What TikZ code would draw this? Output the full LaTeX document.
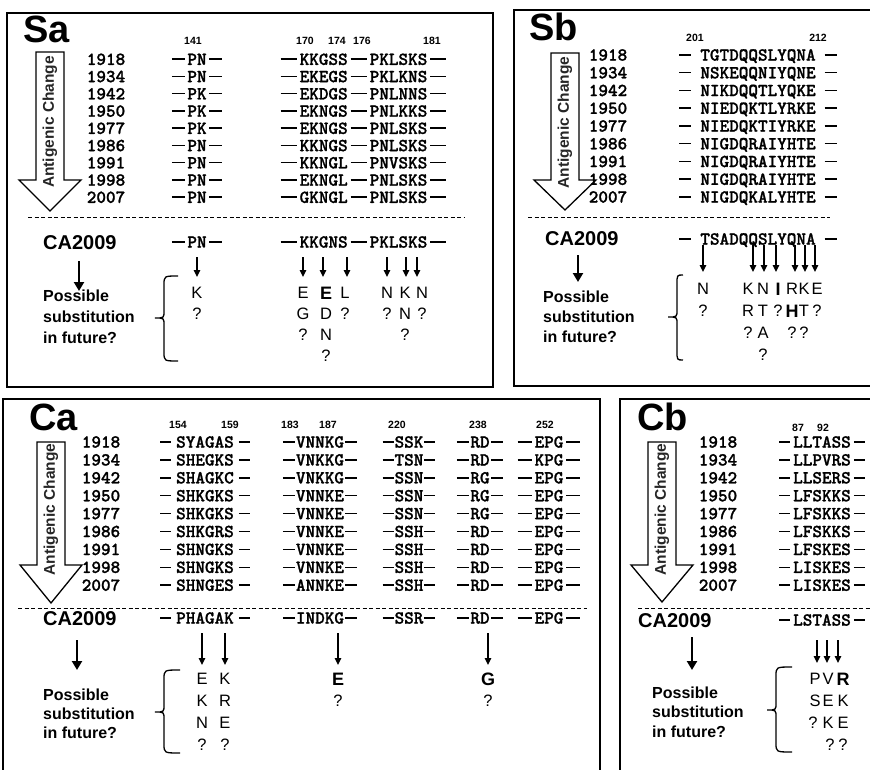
\documentclass[tikz,border=0pt]{standalone}
\usepackage{fontspec}
\setmainfont{Liberation Sans}
\newfontfamily\seqfont{lmmonolt10-bold.otf}[FakeBold=1.2]
\usetikzlibrary{arrows.meta}

% dash-flanked sequence fragments: #1 dash length, #2 gap, then residues
\newcommand\sqdash[1]{\rule[4.9pt]{#1pt}{1.5pt}}
\newcommand\sq[3]{\sqdash{#1}\hspace{#2pt}#3\hspace{#2pt}\sqdash{#1}}
\newcommand\sqq[4]{\sqdash{#1}\hspace{#2pt}#3\hspace{#2pt}\sqdash{#1}\hspace{#2pt}#4\hspace{#2pt}\sqdash{#1}}

\begin{document}
\begin{tikzpicture}[x=1pt,y=-1pt,
  frame/.style={line width=1.6pt},
  bigarrow/.style={draw, line width=1.3pt, fill=white, line join=miter},
  agtext/.style={font=\fontsize{15.5}{15.5}\selectfont\bfseries, text=black!85, inner sep=0pt},
  seqtext/.style={font=\fontsize{18.3}{18.3}\selectfont\seqfont, inner sep=0pt, anchor=base},
  resnum/.style={font=\fontsize{10.5}{10.5}\selectfont\bfseries, inner sep=0pt, anchor=base},
  paneltitle/.style={font=\fontsize{38}{38}\selectfont\bfseries, inner sep=0pt, anchor=base west},
  catext/.style={font=\fontsize{20}{20}\selectfont\bfseries, inner sep=0pt, anchor=base west},
  posstext/.style={font=\fontsize{16}{16}\selectfont\bfseries, inner sep=0pt, anchor=base west},
  subtext/.style={font=\fontsize{16.5}{16.5}\selectfont, inner sep=0pt, anchor=base},
  subbold/.style={font=\fontsize{18}{18}\selectfont\bfseries, inner sep=0pt, anchor=base},
  sepline/.style={line width=1pt, dash pattern=on 4pt off 2.5pt},
  thickarr/.style={line width=2.8pt, -{Triangle[length=9pt,width=10pt]}},
  thinarr/.style={line width=1.4pt, -{Triangle[length=7pt,width=6.5pt]}},
  bracepen/.style={line width=1.3pt},
]
\useasboundingbox (0,0) rectangle (870,770);
\clip (0,0) rectangle (870,770);
\fill[white] (0,0) rectangle (870,770);

% ---------- frames ----------
\draw[frame] (7,13) rectangle (493,387);
\draw[frame] (880,10) -- (514,10) -- (514,386) -- (880,386);
\draw[frame] (3,780) -- (3,399) -- (600,399) -- (600,780);
\draw[frame] (620,780) -- (620,399) -- (880,399);

% ---------- hollow "Antigenic Change" arrows ----------
\newcommand\agarrow[5]{% name, centre x, top, head base, tip
  \draw[bigarrow] ({#2-14},#3) -- ({#2+14},#3) -- ({#2+14},#4) -- ({#2+31},#4)
     -- (#2,#5) -- ({#2-31},#4) -- ({#2-14},#4) -- cycle;
  \node[agtext, rotate=90] (#1) at (#2,{(#3+#4)/2+6}) {Antigenic Change};
}
\agarrow{sa-ag}{50}{52}{180}{211}
\agarrow{sb-ag}{565}{53}{180}{210}
\agarrow{ca-ag}{51}{442}{565}{603}
\agarrow{cb-ag}{662}{442}{565}{602}

% ---------- left curly braces ----------
\newcommand\subbrace[5]{% x tip, x ends, y top, y tip, y bottom
  \draw[bracepen] (#2,#3) .. controls ({#1+9},#3) .. ({#1+9},{#3+9})
    -- ({#1+9},{#4-7}) .. controls ({#1+9},#4) .. (#1,#4)
    .. controls ({#1+9},#4) .. ({#1+9},{#4+7})
    -- ({#1+9},{#5-9}) .. controls ({#1+9},#5) .. (#2,#5);
}

% =================== Sa ===================
\node[paneltitle] (sa-title) at (23,43) {Sa};
\node[resnum] (sa-n141) at (193,44.5) {141};
\node[resnum] (sa-n170) at (305,44.5) {170};
\node[resnum] (sa-n174) at (337,44.5) {174};
\node[resnum] (sa-n176) at (362,44.5) {176};
\node[resnum] (sa-n181) at (432,44.5) {181};
\foreach \yr/\a/\b/\c [count=\i from 0] in {1918/PN/KKGSS/PKLSKS, 1934/PN/EKEGS/PKLKNS,
   1942/PK/EKDGS/PNLNNS, 1950/PK/EKNGS/PNLKKS, 1977/PK/EKNGS/PNLSKS, 1986/PN/KKNGS/PNLSKS,
   1991/PN/KKNGL/PNVSKS, 1998/PN/EKNGL/PNLSKS, 2007/PN/GKNGL/PNLSKS}{
  \pgfmathsetmacro\yy{59.3+17.25*\i+5.6}
  \node[seqtext] (sa-yr\i) at (106,\yy) {\yr};
  \node[seqtext] (sa-pa\i) at (197,\yy) {\sq{13}{2.5}{\a}};
  \node[seqtext] (sa-pb\i) at (363.5,\yy) {\sqq{16}{3}{\b}{\c}};
}
\draw[sepline] (28,218) -- (465,218);
\node[catext] (sa-ca) at (43,249) {CA2009};
\node[seqtext] (sa-cpa) at (197,247.6) {\sq{13}{2.5}{PN}};
\node[seqtext] (sa-cpb) at (363.5,247.6) {\sqq{16}{3}{KKGNS}{PKLSKS}};
\draw[thickarr] (79,261) coordinate (sa-d0) -- (79,291) coordinate (sa-d1);
\foreach \x [count=\k] in {197,303,323,347,387,406,417}
  \draw[thinarr] (\x,257) coordinate (sa-t\k) -- (\x,277) coordinate (sa-h\k);
\node[posstext] (sa-p1) at (43,301.5) {Possible};
\node[posstext] (sa-p2) at (43,322.5) {substitution};
\node[posstext] (sa-p3) at (43,343.5) {in future?};
\subbrace{155}{178}{276}{318}{361}
\foreach \x/\y/\l [count=\k] in {197/293/K, 197/314/?, 303/293/E, 303/314/G, 303/335/?,
   326/314/D, 326/335/N, 326/356/?, 345/293/L, 345/314/?, 387/293/N, 387/314/?,
   405/293/K, 405/314/N, 405/335/?, 422/293/N, 422/314/?}
  \node[subtext] (sa-l\k) at (\x,\y+5.9) {\l};
\node[subbold] (sa-lb1) at (326,299.4) {E};

% =================== Sb ===================
\node[paneltitle] (sb-title) at (529,41) {Sb};
\node[resnum] (sb-n201) at (695,42) {201};
\node[resnum] (sb-n212) at (818,42) {212};
\foreach \yr/\a [count=\i from 0] in {1918/TGTDQQSLYQNA, 1934/NSKEQQNIYQNE, 1942/NIKDQQTLYQKE,
   1950/NIEDQKTLYRKE, 1977/NIEDQKTIYRKE, 1986/NIGDQRAIYHTE, 1991/NIGDQRAIYHTE,
   1998/NIGDQRAIYHTE, 2007/NIGDQKALYHTE}{
  \pgfmathsetmacro\yy{55+17.75*\i+5.6}
  \node[seqtext] (sb-yr\i) at (608,\yy) {\yr};
  \node[seqtext] (sb-pa\i) at (758,\yy) {\sq{12}{9}{\a}};
}
\draw[sepline] (528,218) -- (830,218);
\node[catext] (sb-ca) at (545,246) {CA2009};
\node[seqtext] (sb-cpa) at (758,244.6) {\sq{12}{9}{TSADQQSLYQNA}};
\draw[thickarr] (578,255) coordinate (sb-d0) -- (578,282) coordinate (sb-d1);
\foreach \x [count=\k] in {703,753,764,776,795,805,815}
  \draw[thinarr] (\x,245) coordinate (sb-t\k) -- (\x,272) coordinate (sb-h\k);
\node[posstext] (sb-p1) at (543,302.5) {Possible};
\node[posstext] (sb-p2) at (543,322.5) {substitution};
\node[posstext] (sb-p3) at (543,342.5) {in future?};
\subbrace{668}{683}{275}{317}{360}
\foreach \x/\y/\l [count=\k] in {703/289/N, 703/311/?, 748/289/K, 748/311/R, 748/333/?,
   763/289/N, 763/311/T, 763/333/A, 763/355/?, 778/311/?, 792/289/R, 792/333/?,
   804/289/K, 804/311/T, 804/333/?, 817/289/E, 817/311/?}
  \node[subtext] (sb-l\k) at (\x,\y+5.9) {\l};
\node[subbold] (sb-lb1) at (778,295.4) {I};
\node[subbold] (sb-lb2) at (792,317.4) {H};

% =================== Ca ===================
\node[paneltitle] (ca-title) at (29,430) {Ca};
\node[resnum] (ca-n154) at (178,428.5) {154};
\node[resnum] (ca-n159) at (230,428.5) {159};
\node[resnum] (ca-n183) at (290,428.5) {183};
\node[resnum] (ca-n187) at (328,428.5) {187};
\node[resnum] (ca-n220) at (397,428.5) {220};
\node[resnum] (ca-n238) at (478,428.5) {238};
\node[resnum] (ca-n252) at (545,428.5) {252};
\foreach \yr/\a/\b/\c/\d/\e [count=\i from 0] in {1918/SYAGAS/VNNKG/SSK/RD/EPG,
   1934/SHEGKS/VNKKG/TSN/RD/KPG, 1942/SHAGKC/VNKKG/SSN/RG/EPG, 1950/SHKGKS/VNNKE/SSN/RG/EPG,
   1977/SHKGKS/VNNKE/SSN/RG/EPG, 1986/SHKGRS/VNNKE/SSH/RD/EPG, 1991/SHNGKS/VNNKE/SSH/RD/EPG,
   1998/SHNGKS/VNNKE/SSH/RD/EPG, 2007/SHNGES/ANNKE/SSH/RD/EPG}{
  \pgfmathsetmacro\yy{442+17.9*\i+5.6}
  \node[seqtext] (ca-yr\i) at (101,\yy) {\yr};
  \node[seqtext] (ca-pa\i) at (205,\yy) {\sq{11}{5}{\a}};
  \node[seqtext] (ca-pb\i) at (320,\yy) {\sq{12}{1}{\b}};
  \node[seqtext] (ca-pc\i) at (409,\yy) {\sq{11}{1}{\c}};
  \node[seqtext] (ca-pd\i) at (480,\yy) {\sq{12}{1.5}{\d}};
  \node[seqtext] (ca-pe\i) at (549,\yy) {\sq{14}{3}{\e}};
}
\draw[sepline] (18,608) -- (587,608);
\node[catext] (ca-ca) at (43,625) {CA2009};
\node[seqtext] (ca-cpa) at (205,623.6) {\sq{11}{5}{PHAGAK}};
\node[seqtext] (ca-cpb) at (320,623.6) {\sq{12}{1}{INDKG}};
\node[seqtext] (ca-cpc) at (409,623.6) {\sq{11}{1}{SSR}};
\node[seqtext] (ca-cpd) at (480,623.6) {\sq{12}{1.5}{RD}};
\node[seqtext] (ca-cpe) at (549,623.6) {\sq{14}{3}{EPG}};
\draw[thickarr] (77,640) coordinate (ca-d0) -- (77,670) coordinate (ca-d1);
\foreach \x [count=\k] in {202,225,338,488}
  \draw[thinarr] (\x,633) coordinate (ca-t\k) -- (\x,665) coordinate (ca-h\k);
\node[posstext] (ca-p1) at (43,700.5) {Possible};
\node[posstext] (ca-p2) at (43,719.5) {substitution};
\node[posstext] (ca-p3) at (43,738.5) {in future?};
\subbrace{155}{180}{670}{712}{753}
\foreach \x/\y/\l [count=\k] in {202/679/E, 202/701/K, 202/723/N, 202/745/?,
   225/679/K, 225/701/R, 225/723/E, 225/745/?, 338/701/?, 488/701/?}
  \node[subtext] (ca-l\k) at (\x,\y+5.9) {\l};
\node[subbold] (ca-lb1) at (338,685.4) {E};
\node[subbold] (ca-lb2) at (488,685.4) {G};

% =================== Cb ===================
\node[paneltitle] (cb-title) at (637,430) {Cb};
\node[resnum] (cb-n87) at (798,431.5) {87};
\node[resnum] (cb-n92) at (823,431.5) {92};
\foreach \yr/\a [count=\i from 0] in {1918/LLTASS, 1934/LLPVRS, 1942/LLSERS, 1950/LFSKKS,
   1977/LFSKKS, 1986/LFSKKS, 1991/LFSKES, 1998/LISKES, 2007/LISKES}{
  \pgfmathsetmacro\yy{442+17.9*\i+5.6}
  \node[seqtext] (cb-yr\i) at (718,\yy) {\yr};
  \node[seqtext] (cb-pa\i) at (822,\yy) {\sq{11}{3}{\a}};
}
\draw[sepline] (638,608) -- (870,608);
\node[catext] (cb-ca) at (638,627) {CA2009};
\node[seqtext] (cb-cpa) at (822,625.6) {\sq{11}{3}{LSTASS}};
\draw[thickarr] (692,637) coordinate (cb-d0) -- (692,670) coordinate (cb-d1);
\foreach \x [count=\k] in {817,827,838}
  \draw[thinarr] (\x,640) coordinate (cb-t\k) -- (\x,663) coordinate (cb-h\k);
\node[posstext] (cb-p1) at (652,698.5) {Possible};
\node[posstext] (cb-p2) at (652,717.5) {substitution};
\node[posstext] (cb-p3) at (652,737.5) {in future?};
\subbrace{767}{792}{667}{710}{752}
\foreach \x/\y/\l [count=\k] in {815/679/P, 815/701/S, 813/723/?, 828/679/V, 828/701/E,
   828/723/K, 830/745/?, 843/701/K, 843/723/E, 843/745/?}
  \node[subtext] (cb-l\k) at (\x,\y+5.9) {\l};
\node[subbold] (cb-lb1) at (843,685.4) {R};
\end{tikzpicture}
\end{document}
